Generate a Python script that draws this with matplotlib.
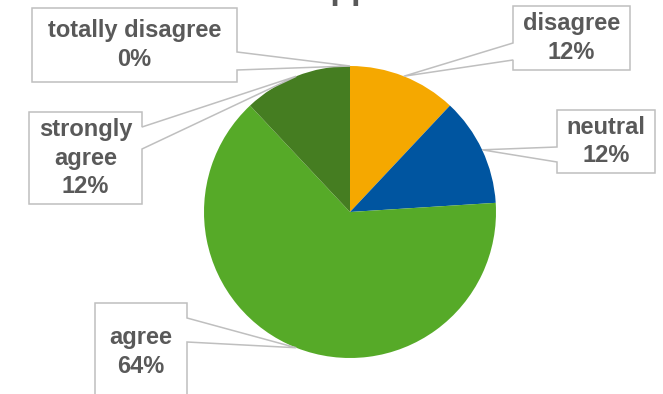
import matplotlib
matplotlib.use("Agg")
import matplotlib.pyplot as plt
from matplotlib.patches import Polygon
import numpy as np

# survey answers
categories = ["totally disagree", "disagree", "neutral", "agree", "strongly agree"]
label_text = ["totally disagree", "disagree", "neutral", "agree", "strongly\nagree"]
shares = [0, 12, 12, 64, 12]
colors = ["#7f7f7f", "#f5a800", "#0055a0", "#56aa28", "#457d21"]

W, H = 663, 394
TXT = "#595959"
EDGE = "#bfbfbf"

fig = plt.figure(figsize=(W / 100, H / 100), dpi=100)
ax = fig.add_axes([0, 0, 1, 1])

cx, cy, r = 350, H - 212, 146
wedges, _ = ax.pie(shares, colors=colors, startangle=90, counterclock=False,
                   center=(cx, cy), radius=r,
                   wedgeprops=dict(linewidth=0))

# callout boxes: x0, x1, top, bottom (pixels from the top), side of the pointer, pointer attach rows
boxes = [
    (32, 237, 8, 82, "right", (52, 70)),
    (513, 630, 6, 70, "left", (43, 60)),
    (557, 655, 110, 173, "left", (147, 162)),
    (95, 187, 303, 401, "right", (318, 342)),
    (29, 142, 112, 204, "right", (127, 149)),
]

for w, txt, val, (x0, x1, top, bot, side, (a1, a2)) in zip(wedges, label_text, shares, boxes):
    mid = np.deg2rad((w.theta1 + w.theta2) / 2)
    tip = (cx + r * np.cos(mid), cy + r * np.sin(mid))
    yt, yb = H - top, H - bot
    if side == "right":
        pts = [(x0, yt), (x1, yt), (x1, H - a1), tip, (x1, H - a2), (x1, yb), (x0, yb)]
    else:
        pts = [(x0, yt), (x1, yt), (x1, yb), (x0, yb), (x0, H - a2), tip, (x0, H - a1)]
    ax.add_patch(Polygon(pts, closed=True, facecolor="white", edgecolor=EDGE,
                         linewidth=1.1, zorder=3))
    ax.text((x0 + x1) / 2, (yt + yb) / 2, f"{txt}\n{val}%", ha="center", va="center",
            fontsize=17, fontweight="bold", color=TXT, family="Liberation Sans",
            linespacing=1.33, zorder=4)

# chart title sits above the top edge, only its lower part is on the canvas
ax.text(380, H + 1, "Our Support Tickets", ha="center", va="baseline",
        fontsize=24.5, fontweight="bold", color=TXT, family="Liberation Sans")

ax.set_xlim(0, W)
ax.set_ylim(0, H)
ax.set_aspect("equal")
ax.axis("off")

fig.savefig("out.png", dpi=100, facecolor="white")
